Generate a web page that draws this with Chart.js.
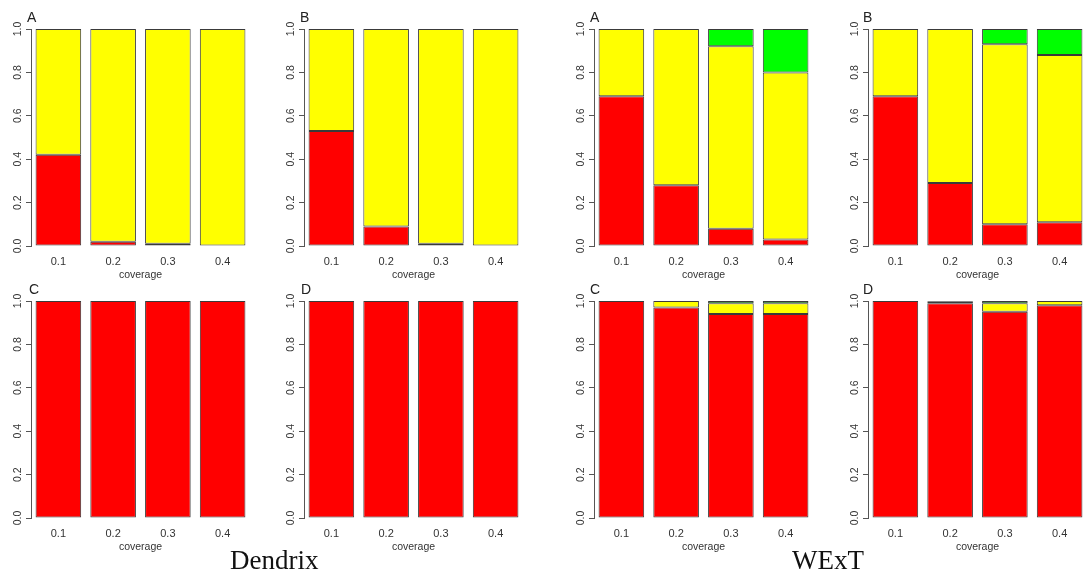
<!DOCTYPE html>
<html>
<head>
<meta charset="utf-8">
<script src="https://cdn.jsdelivr.net/npm/chart.js@4/dist/chart.umd.min.js"></script>
<style>
  html, body { margin: 0; padding: 0; background: #fff; width: 1083px; height: 571px; overflow: hidden; position: relative; }
  canvas { position: absolute; }
  .letter { position: absolute; font-family: "Liberation Sans", Arial, sans-serif; font-size: 14px; line-height: 14px; color: #222; }
  .group { position: absolute; font-family: "Liberation Serif", "Times New Roman", serif; font-size: 27px; line-height: 27px; color: #111; }
</style>
</head>
<body>
<script>
// ---- data ----
const categories = ['0.1', '0.2', '0.3', '0.4'];
const yTickValues = [0, 0.2, 0.4, 0.6, 0.8, 1.0];
const xTitle = 'coverage';

const dendrixA_red    = [0.42, 0.02, 0.01, 0.00];
const dendrixA_yellow = [0.58, 0.98, 0.99, 1.00];
const dendrixA_green  = [0.00, 0.00, 0.00, 0.00];

const dendrixB_red    = [0.53, 0.09, 0.01, 0.00];
const dendrixB_yellow = [0.47, 0.91, 0.99, 1.00];
const dendrixB_green  = [0.00, 0.00, 0.00, 0.00];

const dendrixC_red    = [1.00, 1.00, 1.00, 1.00];
const dendrixC_yellow = [0.00, 0.00, 0.00, 0.00];
const dendrixC_green  = [0.00, 0.00, 0.00, 0.00];

const dendrixD_red    = [1.00, 1.00, 1.00, 1.00];
const dendrixD_yellow = [0.00, 0.00, 0.00, 0.00];
const dendrixD_green  = [0.00, 0.00, 0.00, 0.00];

const wextA_red    = [0.69, 0.28, 0.08, 0.03];
const wextA_yellow = [0.31, 0.72, 0.84, 0.77];
const wextA_green  = [0.00, 0.00, 0.08, 0.20];

const wextB_red    = [0.69, 0.29, 0.10, 0.11];
const wextB_yellow = [0.31, 0.71, 0.83, 0.77];
const wextB_green  = [0.00, 0.00, 0.07, 0.12];

const wextC_red    = [1.00, 0.97, 0.94, 0.94];
const wextC_yellow = [0.00, 0.03, 0.05, 0.05];
const wextC_green  = [0.00, 0.00, 0.01, 0.01];

const wextD_red    = [1.00, 0.99, 0.95, 0.98];
const wextD_yellow = [0.00, 0.007, 0.04, 0.02];
const wextD_green  = [0.00, 0.003, 0.01, 0.00];

// ---- layout (positions only) ----
const AREA_W = 219, AREA_H = 217, Y_AXIS_W = 40, PAD_TOP = 12, X_AXIS_H = 40;
const panels = [
  { letter: 'A', areaLeft: 31,  areaTop: 29,  letterX: 27,  red: dendrixA_red, yellow: dendrixA_yellow, green: dendrixA_green },
  { letter: 'B', areaLeft: 304, areaTop: 29,  letterX: 300, red: dendrixB_red, yellow: dendrixB_yellow, green: dendrixB_green },
  { letter: 'A', areaLeft: 594, areaTop: 29,  letterX: 590, red: wextA_red,    yellow: wextA_yellow,    green: wextA_green },
  { letter: 'B', areaLeft: 868, areaTop: 29,  letterX: 863, red: wextB_red,    yellow: wextB_yellow,    green: wextB_green },
  { letter: 'C', areaLeft: 31,  areaTop: 301, letterX: 29,  red: dendrixC_red, yellow: dendrixC_yellow, green: dendrixC_green },
  { letter: 'D', areaLeft: 304, areaTop: 301, letterX: 301, red: dendrixD_red, yellow: dendrixD_yellow, green: dendrixD_green },
  { letter: 'C', areaLeft: 594, areaTop: 301, letterX: 590, red: wextC_red,    yellow: wextC_yellow,    green: wextC_green },
  { letter: 'D', areaLeft: 868, areaTop: 301, letterX: 863, red: wextD_red,    yellow: wextD_yellow,    green: wextD_green }
];

const TEXT_COLOR = '#333';
const AXIS_COLOR = '#555';
const BORDER_COLOR = '#3a3a3a';

const yLabelPlugin = {
  id: 'yLabels',
  afterDraw(chart) {
    const s = chart.scales.y;
    const ctx = chart.ctx;
    ctx.save();
    ctx.fillStyle = TEXT_COLOR;
    ctx.font = '10.5px "Liberation Sans", Arial, sans-serif';
    ctx.textAlign = 'center';
    ctx.textBaseline = 'middle';
    const x = chart.chartArea.left - 13;
    s.ticks.forEach((t, i) => {
      const y = s.getPixelForTick(i);
      ctx.save();
      ctx.translate(x, y);
      ctx.rotate(-Math.PI / 2);
      ctx.fillText(t.value.toFixed(1), 0, 0);
      ctx.restore();
    });
    ctx.restore();
  }
};

panels.forEach(p => {
  const cv = document.createElement('canvas');
  const w = Y_AXIS_W + AREA_W, h = PAD_TOP + AREA_H + X_AXIS_H;
  cv.width = w; cv.height = h;
  cv.style.width = w + 'px'; cv.style.height = h + 'px';
  cv.style.left = (p.areaLeft - Y_AXIS_W) + 'px';
  cv.style.top = (p.areaTop - PAD_TOP) + 'px';
  document.body.appendChild(cv);

  const lt = document.createElement('div');
  lt.className = 'letter';
  lt.textContent = p.letter;
  lt.style.left = p.letterX + 'px';
  lt.style.top = (p.areaTop - 19) + 'px';
  document.body.appendChild(lt);

  const ds = (label, data, color) => ({
    label, data, backgroundColor: color, borderColor: BORDER_COLOR, borderWidth: 1,
    borderSkipped: false, barPercentage: 0.833, categoryPercentage: 1.0
  });

  new Chart(cv, {
    type: 'bar',
    data: {
      labels: categories,
      datasets: [
        ds('red', p.red, '#ff0000'),
        ds('yellow', p.yellow, '#ffff00'),
        ds('green', p.green, '#00ff00')
      ]
    },
    options: {
      responsive: false,
      maintainAspectRatio: false,
      animation: false,
      devicePixelRatio: 1,
      layout: { padding: { top: PAD_TOP, left: 0, right: 0, bottom: 0 } },
      plugins: { legend: { display: false }, tooltip: { enabled: false }, title: { display: false } },
      scales: {
        x: {
          stacked: true,
          offset: true,
          grid: { display: false, drawTicks: false },
          border: { display: false },
          ticks: { color: TEXT_COLOR, padding: 9, font: { family: '"Liberation Sans", Arial, sans-serif', size: 11 }, maxRotation: 0, minRotation: 0 },
          title: { display: true, text: xTitle, color: TEXT_COLOR, padding: { top: 0, bottom: 5 }, font: { family: '"Liberation Sans", Arial, sans-serif', size: 10.5 } },
          afterFit(scale) { scale.height = X_AXIS_H; }
        },
        y: {
          stacked: true,
          min: 0,
          max: 1,
          afterBuildTicks(scale) { scale.ticks = yTickValues.map(v => ({ value: v })); },
          grid: { display: true, drawOnChartArea: false, drawTicks: true, tickLength: 5, color: AXIS_COLOR, lineWidth: 1 },
          border: { display: true, color: AXIS_COLOR, width: 1 },
          ticks: { display: false },
          afterFit(scale) { scale.width = Y_AXIS_W; }
        }
      }
    },
    plugins: [yLabelPlugin]
  });
});

const groups = [
  { text: 'Dendrix', left: 230, top: 547 },
  { text: 'WExT', left: 792, top: 547 }
];
groups.forEach(g => {
  const d = document.createElement('div');
  d.className = 'group';
  d.textContent = g.text;
  d.style.left = g.left + 'px';
  d.style.top = g.top + 'px';
  document.body.appendChild(d);
});
</script>
</body>
</html>
